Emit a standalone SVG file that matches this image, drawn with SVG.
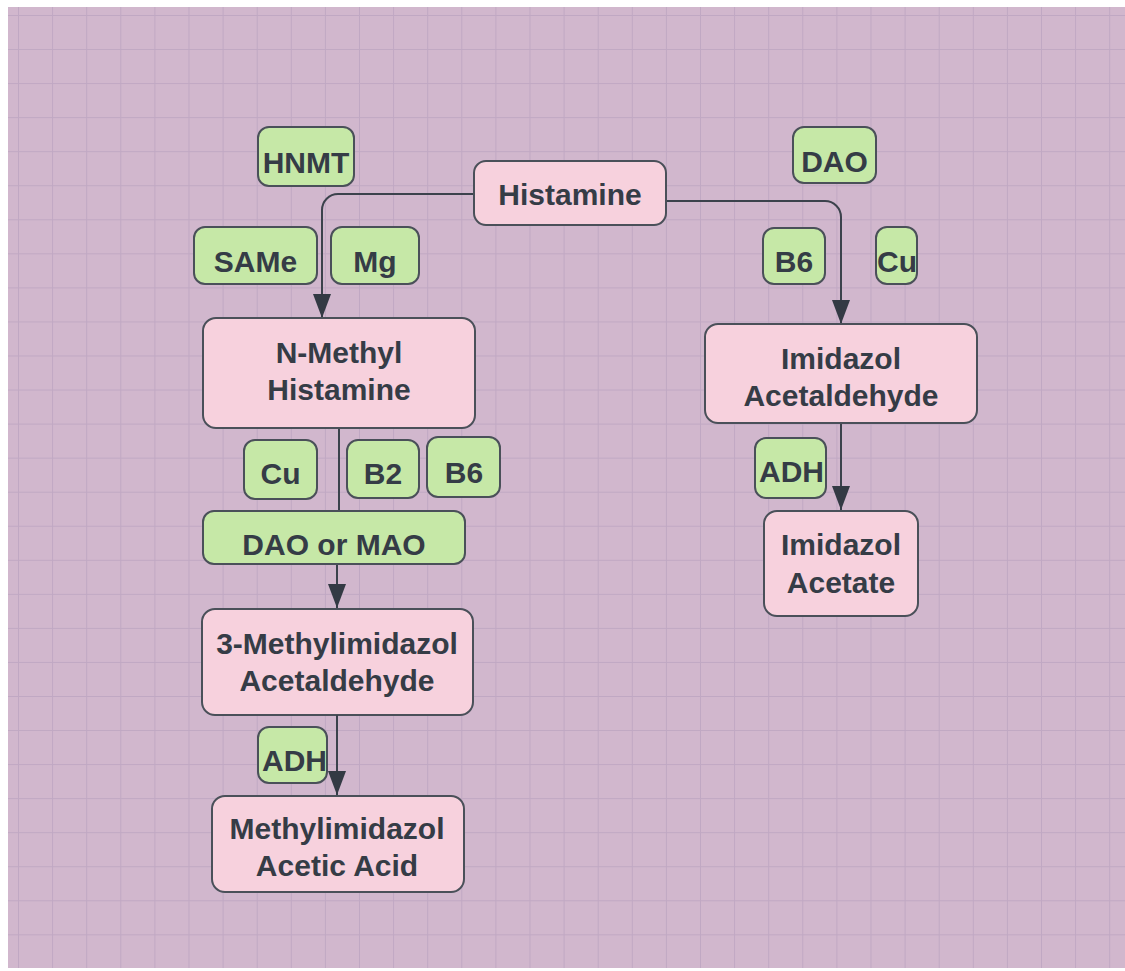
<svg xmlns="http://www.w3.org/2000/svg" width="1125" height="971" viewBox="0 0 1125 971">
<style>
.bg{fill:#d1b7cd}
.p{fill:#f7d1dd;stroke:#4a5059;stroke-width:2}
.g{fill:#c6e8a7;stroke:#4a5059;stroke-width:2}
text{font-family:"Liberation Sans",Arial,sans-serif;font-weight:bold;font-size:30px;fill:#353c46;text-anchor:middle}
.c{fill:none;stroke:#3b424c;stroke-width:2}
</style>
<defs>
<pattern id="grid" x="18" y="15" width="34.1" height="34.05" patternUnits="userSpaceOnUse">
<path d="M0,0 V34.05 M0,0 H34.1" fill="none" stroke="#c0a8c3" stroke-width="2"/>
</pattern>
<marker id="ah" viewBox="0 0 24 18" refX="24" refY="9" markerWidth="24" markerHeight="18" markerUnits="userSpaceOnUse" orient="auto">
<path d="M0,0 L24,9 L0,18 Z" fill="#333a44"/>
</marker>
</defs>
<rect width="1125" height="971" fill="#ffffff"/>
<rect class="bg" x="8" y="7" width="1117" height="961"/>
<rect x="8" y="7" width="1117" height="961" fill="url(#grid)"/>

<g id="connectors">
<path class="c" d="M474,194 H338 A16,16 0 0 0 322,210 V318" marker-end="url(#ah)"/>
<path class="c" d="M666,201 H825 A16,16 0 0 1 841,217 V324" marker-end="url(#ah)"/>
<path class="c" d="M339,428 V511"/>
<path class="c" d="M337,564 V608" marker-end="url(#ah)"/>
<path class="c" d="M841,423 V510" marker-end="url(#ah)"/>
</g>

<g id="histamine"><rect class="p" x="474" y="161" width="192" height="64" rx="12"/><text x="570" y="205">Histamine</text></g>
<g id="hnmt"><rect class="g" x="258" y="127" width="96" height="59" rx="11"/><text x="306" y="173">HNMT</text></g>
<g id="dao-right"><rect class="g" x="793" y="127" width="83" height="56" rx="11"/><text x="834.5" y="172">DAO</text></g>
<g id="same"><rect class="g" x="194" y="227" width="123" height="57" rx="11"/><text x="255.5" y="272">SAMe</text></g>
<g id="mg"><rect class="g" x="331" y="227" width="88" height="57" rx="11"/><text x="375" y="272">Mg</text></g>
<g id="b6-right"><rect class="g" x="763" y="228" width="62" height="56" rx="11"/><text x="794" y="272">B6</text></g>
<g id="cu-right"><rect class="g" x="876" y="227" width="41" height="57" rx="11"/><text x="897" y="272">Cu</text></g>

<g id="n-methyl-histamine"><rect class="p" x="203" y="318" width="272" height="110" rx="13"/><text x="339" y="363">N-Methyl</text><text x="339" y="400">Histamine</text></g>
<g id="imidazol-acetaldehyde"><rect class="p" x="705" y="324" width="272" height="99" rx="13"/><text x="841" y="369">Imidazol</text><text x="841" y="406">Acetaldehyde</text></g>

<g id="cu-left"><rect class="g" x="244" y="440" width="73" height="59" rx="11"/><text x="280.5" y="484">Cu</text></g>
<g id="b2"><rect class="g" x="347" y="440" width="72" height="58" rx="11"/><text x="383" y="484">B2</text></g>
<g id="b6-left"><rect class="g" x="427" y="437" width="73" height="60" rx="11"/><text x="464" y="483">B6</text></g>
<g id="adh-right"><rect class="g" x="755" y="438" width="71" height="60" rx="11"/><text x="791.5" y="482">ADH</text></g>

<g id="dao-or-mao"><rect class="g" x="203" y="511" width="262" height="53" rx="11"/><text x="334" y="555">DAO or MAO</text></g>
<g id="imidazol-acetate"><rect class="p" x="764" y="511" width="154" height="105" rx="13"/><text x="841" y="555">Imidazol</text><text x="841" y="593">Acetate</text></g>

<g id="methylimidazol-acetaldehyde"><rect class="p" x="202" y="609" width="271" height="106" rx="13"/><text x="337" y="654">3-Methylimidazol</text><text x="337" y="691">Acetaldehyde</text></g>
<g id="adh-left"><rect class="g" x="258" y="727" width="69" height="56" rx="11"/><text x="294.5" y="771">ADH</text></g>
<g id="methylimidazol-acetic-acid"><rect class="p" x="212" y="796" width="252" height="96" rx="13"/><text x="337" y="839">Methylimidazol</text><text x="337" y="876">Acetic Acid</text></g>

<g id="connectors-2">
<path class="c" d="M337,715 V795" marker-end="url(#ah)"/>
</g>
</svg>
